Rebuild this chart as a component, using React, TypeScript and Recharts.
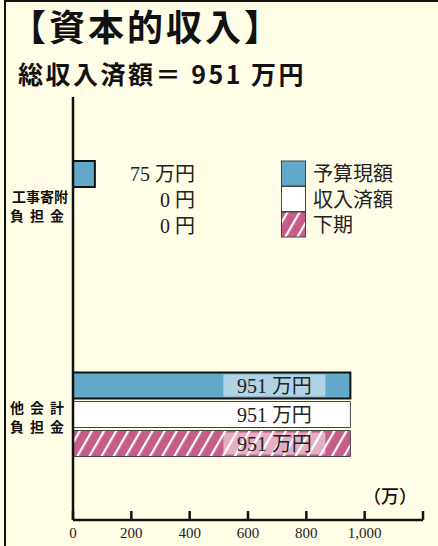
import React from 'react';
import { BarChart, Bar, XAxis, YAxis, LabelList } from 'recharts';

const categories = ['工事寄附負担金', '他会計負担金'];
const categoryLines = [['工事寄附', '負担金'], ['他会計', '負担金']];
const budget = [75, 951];
const received = [0, 951];
const secondHalf = [0, 951];
const xTicks = [0, 200, 400, 600, 800, 1000, 1200];
const seriesNames = ['予算現額', '収入済額', '下期'];

const BLUE = '#62a8c8';
const PINK = '#c85c89';
const SERIF = "'Liberation Serif', 'Noto Sans CJK JP', serif";
const SANS = "'Noto Sans CJK JP', 'Noto Sans', sans-serif";

const chartData = categories.map((name, i) => ({
  name,
  budget: budget[i],
  received: received[i],
  secondHalf: secondHalf[i],
}));

const fmt = (v: number) => v.toLocaleString('en-US');
const valueText = (v: number) => (v > 0 ? `${v} 万円` : '0 円');

const XTick = ({ x, y, payload }: any) => (
  <g>
    <line x1={x} x2={x} y1={y} y2={y - 9} stroke="#111" strokeWidth={2.5} />
    {payload.value < 1200 && (
      <text x={x} y={y + 18} textAnchor="middle" fontFamily={SERIF} fontSize={15} fill="#222">
        {fmt(payload.value)}
      </text>
    )}
  </g>
);

const YTick = ({ y, index }: any) => {
  const lines = categoryLines[index] || [];
  return (
    <g fontFamily={SANS} fontWeight="bold" fontSize={14} fill="#111">
      <text x={40} y={y - 7} textAnchor="middle" dominantBaseline="central" letterSpacing={lines[0]?.length === 3 ? 6 : 0}>
        {lines[0]}
      </text>
      <text x={40} y={y + 12} textAnchor="middle" dominantBaseline="central" letterSpacing={6}>
        {lines[1]}
      </text>
    </g>
  );
};

// small values: the three amounts are listed in a column next to the first bar
const makeLabel = (k: number, shade: boolean) => (props: any) => {
  const { x, y, width, height, value, index } = props;
  const cy = y + height / 2;
  if (value < 500) {
    if (k !== 0) return null;
    const row = chartData[index];
    const vals = [row.budget, row.received, row.secondHalf];
    return (
      <g fontFamily={SERIF} fontSize={20} fill="#222">
        {vals.map((v, j) => (
          <text key={j} x={x + 122} y={cy + j * 25.8} textAnchor="end" dominantBaseline="central">
            {valueText(v)}
          </text>
        ))}
      </g>
    );
  }
  const cx = x + width - 76;
  return (
    <g>
      {shade && <rect x={cx - 51} y={y + 2} width={102} height={height - 4} fill="#fff" fillOpacity={0.5} />}
      <text x={cx} y={cy} textAnchor="middle" dominantBaseline="central" fontFamily={SERIF} fontSize={20} fill="#222">
        {valueText(value)}
      </text>
    </g>
  );
};

const Hatch = ({ id }: { id: string }) => (
  <pattern id={id} width={10.5} height={10.5} patternUnits="userSpaceOnUse" patternTransform="rotate(30)">
    <rect width={10.5} height={10.5} fill={PINK} />
    <rect x={0} y={0} width={2.2} height={10.5} fill="#fff" />
  </pattern>
);

const Legend = () => (
  <svg width={140} height={80} style={{ position: 'absolute', left: 280, top: 160 }}>
    <defs>
      <Hatch id="hatchLegend" />
    </defs>
    {seriesNames.map((n, i) => (
      <g key={n}>
        <rect
          x={1.5}
          y={1 + i * 25.5}
          width={24}
          height={25}
          fill={i === 0 ? BLUE : i === 1 ? '#fff' : 'url(#hatchLegend)'}
          stroke="#444"
          strokeWidth={1}
        />
        <text x={33} y={14 + i * 25.5} dominantBaseline="central" fontFamily={SERIF} fontSize={20} fill="#222">
          {n}
        </text>
      </g>
    ))}
  </svg>
);

export default function App() {
  return (
    <div style={{ position: 'absolute', left: 0, top: 0, width: 438, height: 546, background: '#fffde6', overflow: 'hidden' }}>
      <div style={{ position: 'absolute', left: 4, top: 0, width: 2, height: 546, background: '#111' }} />
      <div style={{ position: 'absolute', left: 4, top: 0, width: 434, height: 2, background: '#111' }} />
      <div style={{ position: 'absolute', left: 10, top: 5, fontFamily: SANS, fontWeight: 'bold', fontSize: 36, letterSpacing: 3, color: '#111', lineHeight: '40px', whiteSpace: 'nowrap' }}>
        【資本的収入】
      </div>
      <div style={{ position: 'absolute', left: 18, top: 55, fontFamily: SANS, fontWeight: 'bold', fontSize: 25, letterSpacing: 2.5, color: '#111', lineHeight: '36px', whiteSpace: 'nowrap' }}>
        総収入済額＝ 951 万円
      </div>
      <BarChart
        width={438}
        height={546}
        data={chartData}
        layout="vertical"
        margin={{ top: 97, right: 15, bottom: 0, left: 0 }}
        barSize={26}
        barGap={3}
        style={{ position: 'absolute', left: 0, top: 0 }}
      >
        <defs>
          <Hatch id="hatchBar" />
        </defs>
        <XAxis
          type="number"
          domain={[0, 1200]}
          ticks={xTicks}
          height={26}
          tickSize={0}
          tickMargin={0}
          tickLine={false}
          axisLine={{ stroke: '#111', strokeWidth: 2.5 }}
          tick={<XTick />}
          interval={0}
        />
        <YAxis
          type="category"
          dataKey="name"
          width={73}
          tickSize={0}
          tickLine={false}
          axisLine={{ stroke: '#111', strokeWidth: 2.5 }}
          tick={<YTick />}
          interval={0}
        />
        <Bar dataKey="budget" name={seriesNames[0]} fill={BLUE} stroke="#111" strokeWidth={2} isAnimationActive={false}>
          <LabelList dataKey="budget" content={makeLabel(0, true)} />
        </Bar>
        <Bar dataKey="received" name={seriesNames[1]} fill="#fff" stroke="#444" strokeWidth={1} isAnimationActive={false}>
          <LabelList dataKey="received" content={makeLabel(1, false)} />
        </Bar>
        <Bar dataKey="secondHalf" name={seriesNames[2]} fill="url(#hatchBar)" stroke="#444" strokeWidth={1} isAnimationActive={false}>
          <LabelList dataKey="secondHalf" content={makeLabel(2, true)} />
        </Bar>
      </BarChart>
      <div style={{ position: 'absolute', left: 363, top: 482, fontFamily: SANS, fontWeight: 500, fontSize: 18, color: '#111', whiteSpace: 'nowrap' }}>
        （万）
      </div>
      <Legend />
    </div>
  );
}
